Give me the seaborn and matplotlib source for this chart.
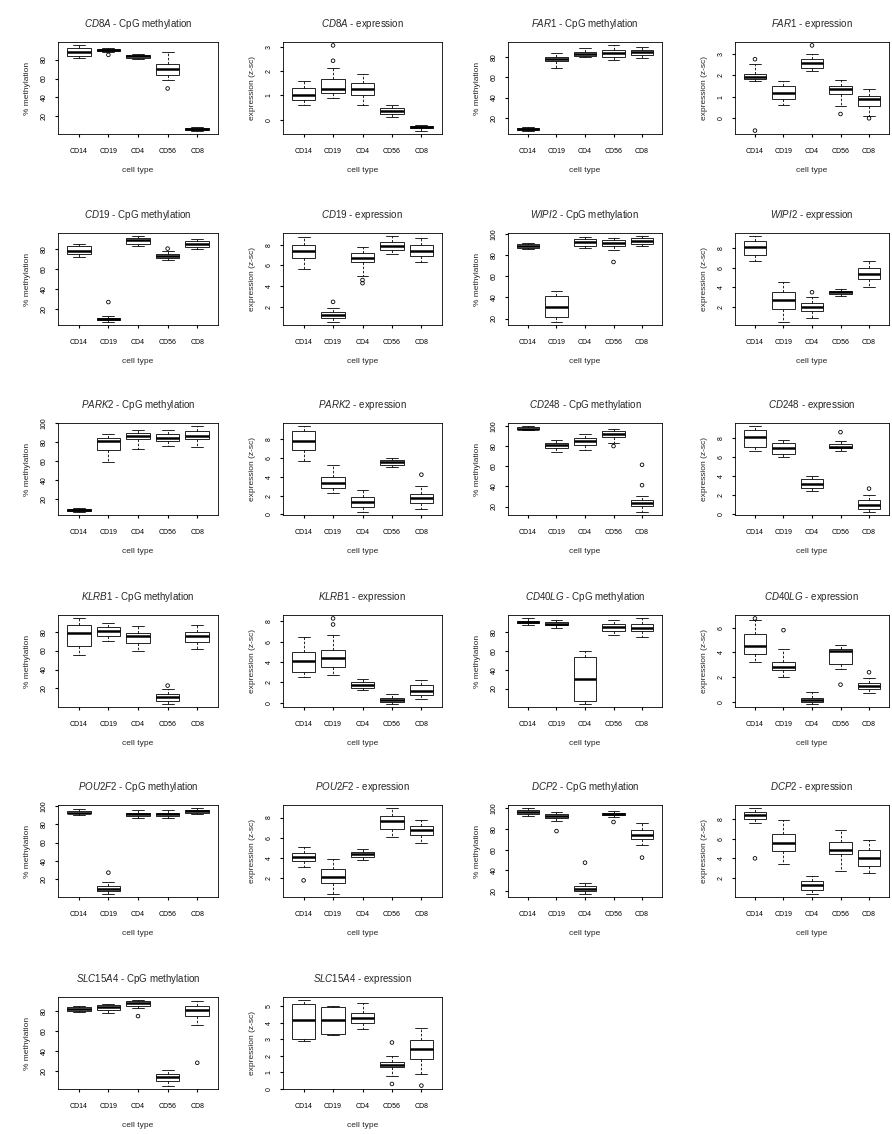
import matplotlib
matplotlib.use("Agg")
import matplotlib.pyplot as plt
import numpy as np
import pandas as pd
import seaborn as sns
from matplotlib.ticker import MaxNLocator

sns.set_style("ticks", rc={
    "axes.edgecolor": "black",
    "axes.linewidth": 0.6,
    "xtick.color": "black",
    "ytick.color": "black",
    "xtick.major.width": 0.6,
    "ytick.major.width": 0.6,
})
plt.rcParams["font.family"] = ["Liberation Sans", "DejaVu Sans"]
plt.rcParams["mathtext.fontset"] = "custom"
plt.rcParams["mathtext.it"] = "Liberation Sans:italic"
plt.rcParams["mathtext.rm"] = "Liberation Sans"

CELL_TYPES = ["CD14", "CD19", "CD4", "CD56", "CD8"]

# Per cell type: (lower whisker, Q1, median, Q3, upper whisker); outliers listed separately
cd8a_meth = [(82, 84, 88, 92, 95), (88, 89, 90, 91, 92), (81, 82, 83.5, 85, 86),
             (58, 63.5, 70.5, 75.8, 88), (5, 6, 7, 8, 9)]
cd8a_meth_out = [[], [85], [], [49.5], []]
cd8a_expr = [(0.59, 0.80, 1.01, 1.30, 1.57), (0.87, 1.11, 1.25, 1.67, 2.14),
             (0.59, 1.01, 1.25, 1.50, 1.86), (0.10, 0.23, 0.36, 0.49, 0.60),
             (-0.45, -0.35, -0.30, -0.25, -0.20)]
cd8a_expr_out = [[], [2.42, 3.05], [], [], []]

far1_meth = [(7, 8, 9, 10, 11), (69, 76.6, 78.3, 80.6, 84), (80, 81.6, 83, 85, 89),
             (77, 80, 84, 87.3, 92), (79, 82.3, 85, 87.3, 90)]
far1_meth_out = [[], [], [], [], []]
far1_expr = [(1.74, 1.82, 1.92, 2.05, 2.50), (0.62, 0.89, 1.15, 1.48, 1.74),
             (2.20, 2.35, 2.58, 2.77, 2.97), (0.58, 1.12, 1.35, 1.48, 1.77),
             (0.12, 0.58, 0.89, 1.05, 1.38)]
far1_expr_out = [[2.74, -0.57], [], [3.38], [0.2], [0.0]]

cd19_meth = [(72, 75, 78.3, 83.3, 85), (7, 8.3, 10, 11, 13), (83, 85, 89, 91.7, 93),
             (69, 71.7, 73.3, 75, 78.3), (80.7, 82.3, 85.7, 88.3, 90)]
cd19_meth_out = [[], [26.7], [], [80.7], []]
cd19_expr = [(5.7, 6.7, 7.4, 8.0, 8.7), (0.6, 0.9, 1.2, 1.5, 1.9), (5.0, 6.3, 6.7, 7.2, 7.8),
             (7.1, 7.5, 7.9, 8.3, 8.8), (6.3, 6.9, 7.4, 8.0, 8.6)]
cd19_expr_out = [[], [2.5], [4.6, 4.3], [], []]

wipi2_meth = [(86, 87.3, 89, 90.5, 91.5), (17.1, 21, 31.4, 41.6, 45.7),
              (87.3, 88.9, 92.7, 95.2, 97.8), (85, 88.9, 91.4, 94.3, 96.5),
              (88.9, 90.5, 93.6, 96.2, 98)]
wipi2_meth_out = [[], [], [], [73.7], []]
wipi2_expr = [(6.7, 7.3, 8.1, 8.7, 9.2), (0.5, 1.8, 2.7, 3.5, 4.5), (0.9, 1.6, 2.0, 2.4, 3.0),
              (3.1, 3.3, 3.5, 3.6, 3.8), (4.0, 4.8, 5.4, 6.0, 6.7)]
wipi2_expr_out = [[], [], [3.5], [], []]

park2_meth = [(7, 8, 9.2, 10, 11), (59, 71.5, 81.7, 85, 88.4), (73.3, 83.4, 86.7, 89.4, 93.5),
              (76, 81.7, 85, 88.4, 93.5), (75, 83.4, 86.7, 91.8, 96.8)]
park2_meth_out = [[], [], [], [], []]
park2_expr = [(5.6, 6.8, 7.8, 8.8, 9.3), (2.3, 2.8, 3.3, 4.0, 5.2), (0.3, 0.8, 1.3, 1.8, 2.6),
              (5.0, 5.2, 5.5, 5.7, 6.0), (0.6, 1.2, 1.7, 2.2, 3.0)]
park2_expr_out = [[], [], [], [], [4.2]]

cd248_meth = [(95.5, 96.5, 97.4, 99, 99.5), (74, 78.5, 80.9, 83.4, 86),
              (76.4, 80.9, 85, 88.3, 91.6), (83, 89.3, 92.2, 94.8, 97),
              (15, 21, 23.3, 26.5, 30.7)]
cd248_meth_out = [[], [], [], [80], [41.2, 61.4]]
cd248_expr = [(6.6, 7.1, 8.1, 8.8, 9.2), (6.0, 6.3, 6.9, 7.5, 7.8), (2.5, 2.8, 3.2, 3.7, 4.0),
              (6.6, 6.9, 7.1, 7.4, 7.7), (0.3, 0.6, 1.0, 1.5, 2.0)]
cd248_expr_out = [[], [], [], [8.6], [2.7]]

klrb1_meth = [(55, 65, 79, 87, 94), (70, 75, 81, 85, 89), (60, 68, 75, 79, 86),
              (4, 7, 10.5, 14, 19), (62, 69, 75, 80, 87)]
klrb1_meth_out = [[], [], [], [23], []]
klrb1_expr = [(2.5, 3.0, 4.1, 5.0, 6.5), (2.7, 3.5, 4.4, 5.2, 6.7), (1.2, 1.4, 1.7, 2.0, 2.3),
              (-0.1, 0.1, 0.3, 0.5, 0.8), (0.4, 0.7, 1.1, 1.7, 2.2)]
klrb1_expr_out = [[], [7.7, 8.3], [], [], []]

cd40lg_meth = [(88, 90, 91, 92, 94.5), (84, 87, 89, 91, 93), (4, 7, 30, 53.5, 60),
               (77, 81, 85, 89, 93), (74.5, 81, 84, 89, 94.5)]
cd40lg_meth_out = [[], [], [], [], []]
cd40lg_expr = [(3.2, 3.9, 4.5, 5.5, 6.6), (2.0, 2.55, 2.8, 3.2, 4.3), (-0.13, 0.0, 0.13, 0.3, 0.84),
               (2.7, 3.1, 4.1, 4.3, 4.6), (0.7, 1.05, 1.3, 1.5, 1.9)]
cd40lg_expr_out = [[6.75], [5.8], [], [1.4], [2.4]]

pou2f2_meth = [(90, 92, 93, 94.5, 96.5), (4, 7, 9.5, 12.5, 17), (87, 89, 91, 93, 95.5),
               (87, 89, 91, 93, 95.5), (91, 93, 94.5, 95.5, 97.5)]
pou2f2_meth_out = [[], [27], [], [], []]
pou2f2_expr = [(3.1, 3.7, 4.1, 4.5, 5.1), (0.5, 1.5, 2.1, 2.9, 3.9), (3.8, 4.1, 4.4, 4.6, 4.9),
               (6.1, 6.9, 7.7, 8.2, 8.9), (5.5, 6.3, 6.8, 7.2, 7.8)]
pou2f2_expr_out = [[1.8], [], [], [], []]

dcp2_meth = [(93, 94.2, 96.5, 98.7, 100), (88, 91, 92.6, 94.2, 96.5), (17.4, 20, 22.3, 24.8, 27.4),
             (91.9, 93.5, 94.8, 95.8, 97.4), (64.5, 70, 74.2, 78.7, 86)]
dcp2_meth_out = [[], [78], [47.4], [86.8], [52.3]]
dcp2_expr = [(7.6, 8.0, 8.4, 8.7, 9.1), (3.4, 4.7, 5.6, 6.5, 7.9), (0.4, 0.8, 1.3, 1.7, 2.2),
             (2.7, 4.4, 4.9, 5.7, 6.9), (2.5, 3.2, 4.0, 4.9, 5.9)]
dcp2_expr_out = [[4.0], [], [], [], []]

slc15a4_meth = [(79, 80, 81.7, 83.5, 84.5), (78, 81, 83.5, 85.9, 87), (83, 85.2, 87.7, 89.4, 90.4),
                (5.2, 9.4, 14, 16.5, 21), (66, 74.8, 81, 85.2, 89.4)]
slc15a4_meth_out = [[], [], [74.7], [], [28]]
slc15a4_expr = [(2.9, 3.0, 4.14, 5.1, 5.34), (3.26, 3.3, 4.14, 4.94, 5.0), (3.6, 4.0, 4.26, 4.6, 5.2),
                (0.8, 1.3, 1.46, 1.6, 2.0), (0.9, 1.8, 2.4, 2.94, 3.66)]
slc15a4_expr_out = [[], [], [], [2.8, 0.3], [0.2]]

PANELS = [
    ("CD8A", "meth", cd8a_meth, cd8a_meth_out), ("CD8A", "expr", cd8a_expr, cd8a_expr_out),
    ("FAR1", "meth", far1_meth, far1_meth_out), ("FAR1", "expr", far1_expr, far1_expr_out),
    ("CD19", "meth", cd19_meth, cd19_meth_out), ("CD19", "expr", cd19_expr, cd19_expr_out),
    ("WIPI2", "meth", wipi2_meth, wipi2_meth_out), ("WIPI2", "expr", wipi2_expr, wipi2_expr_out),
    ("PARK2", "meth", park2_meth, park2_meth_out), ("PARK2", "expr", park2_expr, park2_expr_out),
    ("CD248", "meth", cd248_meth, cd248_meth_out), ("CD248", "expr", cd248_expr, cd248_expr_out),
    ("KLRB1", "meth", klrb1_meth, klrb1_meth_out), ("KLRB1", "expr", klrb1_expr, klrb1_expr_out),
    ("CD40LG", "meth", cd40lg_meth, cd40lg_meth_out), ("CD40LG", "expr", cd40lg_expr, cd40lg_expr_out),
    ("POU2F2", "meth", pou2f2_meth, pou2f2_meth_out), ("POU2F2", "expr", pou2f2_expr, pou2f2_expr_out),
    ("DCP2", "meth", dcp2_meth, dcp2_meth_out), ("DCP2", "expr", dcp2_expr, dcp2_expr_out),
    ("SLC15A4", "meth", slc15a4_meth, slc15a4_meth_out), ("SLC15A4", "expr", slc15a4_expr, slc15a4_expr_out),
]

# grid geometry in pixels (figure is 892 x 1134)
FIG_W, FIG_H = 892, 1134
COL_LEFT = [58, 283, 508, 735]
COL_WIDTH = [160, 159, 154, 154]
ROW_TOP = [42, 233, 423, 615, 805, 997]
ROW_HEIGHT = 92


def summary_frame(stats):
    """Long-form frame whose quartiles reproduce each five-number summary."""
    cells, vals = [], []
    for cell, (lo, q1, med, q3, hi) in zip(CELL_TYPES, stats):
        pts = [lo] + [q1] * 10 + [med] * 10 + [q3] * 10 + [hi]
        cells += [cell] * len(pts)
        vals += pts
    return pd.DataFrame({"cell type": cells, "value": vals})


def outlier_frame(outliers):
    cells, vals = [], []
    for cell, pts in zip(CELL_TYPES, outliers):
        cells += [cell] * len(pts)
        vals += list(pts)
    return pd.DataFrame({"cell type": cells, "value": vals})


def pretty_ticks(ylo, yhi):
    """Round tick values inside the axis range, at least four when possible."""
    ticks = []
    for nb in (5, 6, 7):
        ticks = MaxNLocator(nbins=nb, steps=[1, 2, 5, 10]).tick_values(ylo, yhi)
        ticks = [t for t in ticks if ylo <= t <= yhi]
        if len(ticks) >= 4:
            break
    return ticks


fig = plt.figure(figsize=(FIG_W / 100, FIG_H / 100), dpi=100)

for i, (gene, kind, stats, outliers) in enumerate(PANELS):
    r, c = divmod(i, 4)
    left = COL_LEFT[c] / FIG_W
    bottom = 1 - (ROW_TOP[r] + ROW_HEIGHT) / FIG_H
    ax = fig.add_axes([left, bottom, COL_WIDTH[c] / FIG_W, ROW_HEIGHT / FIG_H])

    core = summary_frame(stats)
    sns.boxplot(data=core, x="cell type", y="value", order=CELL_TYPES, ax=ax,
                whis=(0, 100), width=0.8, color="white", linecolor="black",
                linewidth=0.6, saturation=1, showfliers=False,
                medianprops={"linewidth": 1.8},
                whiskerprops={"linestyle": (0, (3, 2))})

    odf = outlier_frame(outliers)
    if len(odf):
        n_before = len(ax.collections)
        sns.stripplot(data=odf, x="cell type", y="value", order=CELL_TYPES, ax=ax,
                      jitter=False, color="black", size=2.6)
        for coll in ax.collections[n_before:]:
            coll.set_facecolor("none")
            coll.set_edgecolor("black")
            coll.set_linewidth(0.6)

    allv = [v for s in stats for v in (s[0], s[4])] + [v for o in outliers for v in o]
    lo, hi = min(allv), max(allv)
    pad = 0.04 * (hi - lo)
    ylo, yhi = lo - pad, hi + pad
    ax.set_ylim(ylo, yhi)
    ax.set_xlim(-0.7, 4.7)

    ticks = pretty_ticks(ylo, yhi)
    ax.set_yticks(ticks)
    if all(abs(t - round(t)) < 1e-9 for t in ticks):
        labels = [str(int(round(t))) for t in ticks]
    else:
        labels = [f"{t:g}" for t in ticks]
    ax.set_yticklabels(labels, rotation=90, va="center", fontsize=5)
    ax.set_xticks(range(len(CELL_TYPES)))
    ax.set_xticklabels(CELL_TYPES, fontsize=5)
    ax.tick_params(axis="x", length=2.4, pad=8)
    ax.tick_params(axis="y", length=2.4, pad=5)

    for sp in ax.spines.values():
        sp.set_visible(True)
        sp.set_color("black")
        sp.set_linewidth(0.6)

    what = "CpG methylation" if kind == "meth" else "expression"
    ax.set_title(rf"$\it{{{gene}}}$ - {what}", fontsize=7, pad=11)
    ax.set_xlabel("cell type", fontsize=6, labelpad=8)
    ax.set_ylabel("% methylation" if kind == "meth" else "expression (z-sc)",
                  fontsize=6, labelpad=7)

fig.savefig("out.png", dpi=100, facecolor="white")
